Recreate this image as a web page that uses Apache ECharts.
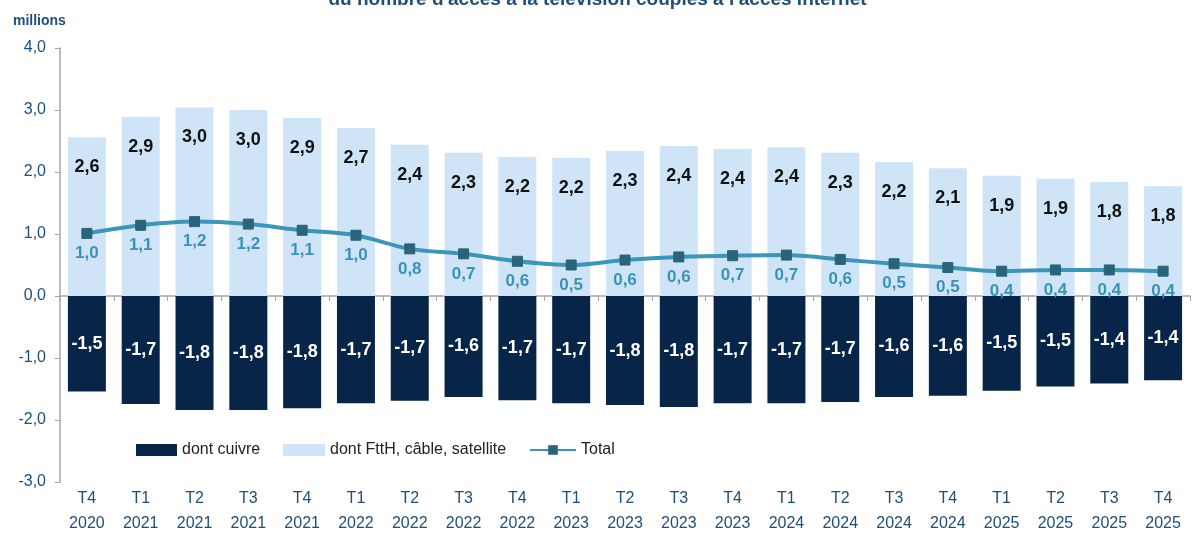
<!DOCTYPE html>
<html><head><meta charset="utf-8">
<script src="https://cdn.jsdelivr.net/npm/echarts@6/dist/echarts.min.js"></script>
<style>html,body{margin:0;padding:0;background:#fff}#c{width:1195px;height:548px}</style>
</head><body><div id="c"></div>
<script>
const categories = ["T4\n2020","T1\n2021","T2\n2021","T3\n2021","T4\n2021","T1\n2022","T2\n2022","T3\n2022","T4\n2022","T1\n2023","T2\n2023","T3\n2023","T4\n2023","T1\n2024","T2\n2024","T3\n2024","T4\n2024","T1\n2025","T2\n2025","T3\n2025","T4\n2025"];
const ftth = [2.56,2.89,3.04,3.00,2.87,2.71,2.44,2.31,2.24,2.23,2.34,2.42,2.37,2.40,2.31,2.16,2.06,1.94,1.89,1.84,1.77];
const cuivre = [-1.54,-1.74,-1.84,-1.84,-1.81,-1.73,-1.69,-1.63,-1.68,-1.73,-1.76,-1.79,-1.73,-1.73,-1.71,-1.63,-1.61,-1.53,-1.46,-1.41,-1.36];
const total = [1.01,1.14,1.20,1.16,1.06,0.98,0.76,0.68,0.56,0.50,0.58,0.63,0.65,0.66,0.59,0.52,0.46,0.40,0.42,0.42,0.40];
const titleText = "du nombre d'accès à la télévision couplés à l'accès internet";
const unitText = "millions";

const FONT = "Liberation Sans";
const BLUE = "#1f4e79";
const fmt = v => v.toFixed(1).replace('.', ',');

const chart = echarts.init(document.getElementById('c'), null, {renderer:'canvas'});
chart.setOption({
  animation:false,
  textStyle:{fontFamily:FONT},
  title:[
    {text:titleText, left:'center', top:-15, textStyle:{fontSize:19, fontWeight:'bold', color:BLUE, fontFamily:FONT}},
    {text:unitText, left:8, top:9, textStyle:{fontSize:14, fontWeight:'bold', color:BLUE, fontFamily:FONT}}
  ],
  grid:{left:60, right:5, top:48, bottom:66, containLabel:false},
  legend:[
    {left:131, top:437, itemWidth:41, itemHeight:12, icon:'rect', data:['dont cuivre'], textStyle:{fontSize:16, color:'#222'}},
    {left:278, top:437, itemWidth:42, itemHeight:12, icon:'rect', data:['dont FttH, câble, satellite'], textStyle:{fontSize:16, color:'#222'}},
    {left:524, top:437, itemWidth:46, itemHeight:12, data:['Total'], textStyle:{fontSize:16, color:'#222'}}
  ],
  xAxis:[
    {type:'category', data:categories, position:'bottom',
     axisLine:{onZero:true, lineStyle:{color:'#a6a6a6', width:1.5}},
     axisTick:{show:true, length:5, lineStyle:{color:'#a6a6a6'}},
     axisLabel:{show:false}},
    {type:'category', data:categories, position:'bottom',
     axisLine:{show:false, onZero:false}, axisTick:{show:false},
     axisLabel:{color:BLUE, fontSize:16, lineHeight:25, margin:4, interval:0}}
  ],
  yAxis:{type:'value', min:-3, max:4, interval:1,
    axisLine:{show:true, lineStyle:{color:'#a6a6a6', width:1.5}},
    axisTick:{show:true, length:5, lineStyle:{color:'#a6a6a6'}},
    splitLine:{show:false},
    axisLabel:{color:BLUE, fontSize:16, margin:14, formatter:v=>fmt(v)}
  },
  series:[
    {name:'dont cuivre', type:'bar', stack:'s', data:cuivre, barWidth:38, xAxisIndex:0,
     itemStyle:{color:'#062548'},
     label:{show:true, position:'inside', color:'#fff', fontWeight:'bold', fontSize:18, formatter:p=>fmt(p.value)}},
    {name:'dont FttH, câble, satellite', type:'bar', stack:'s', data:ftth, barWidth:38, xAxisIndex:0,
     itemStyle:{color:'#cfe4f7'},
     label:{show:true, position:'insideTop', distance:21, color:'#111', fontWeight:'bold', fontSize:18, formatter:p=>fmt(p.value)}},
    {name:'Total', type:'line', data:total, xAxisIndex:0, smooth:0.3, z:5,
     lineStyle:{color:'#3c96b9', width:4},
     symbol:'rect', symbolSize:10,
     itemStyle:{color:'#2a6478', borderColor:'#2a6478'},
     label:{show:true, position:'bottom', distance:6, color:'#3a93b6', fontWeight:'bold', fontSize:17, formatter:p=>fmt(p.value)}}
  ]
});
</script></body></html>
